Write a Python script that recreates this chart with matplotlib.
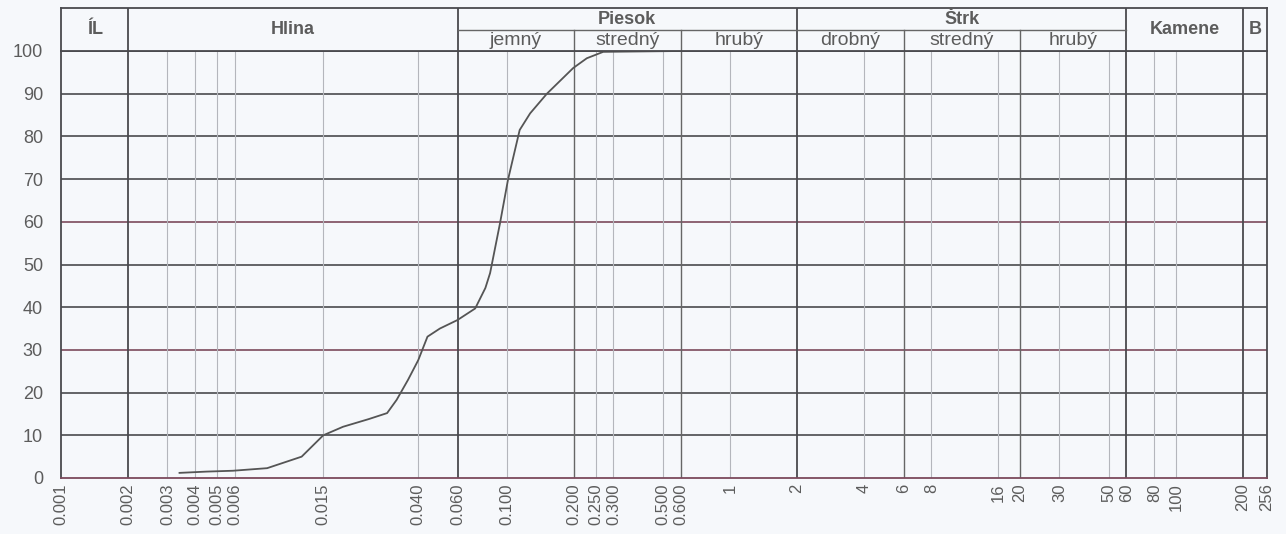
import numpy as np
import matplotlib
matplotlib.use('Agg')
import matplotlib.pyplot as plt

# grain size curve (diameter mm, % passing)
diam = [0.0034, 0.0045, 0.0059, 0.0084, 0.0120, 0.0150, 0.0184, 0.0240, 0.0290,
        0.0320, 0.0360, 0.0400, 0.0440, 0.0500, 0.0600, 0.0720, 0.0800, 0.0840,
        0.0930, 0.1010, 0.1140, 0.1270, 0.1510, 0.1980, 0.2280, 0.2700, 0.6000]
passing = [1.2, 1.5, 1.7, 2.3, 5.0, 10.0, 12.0, 13.8, 15.2,
           18.3, 23.0, 27.6, 33.1, 35.0, 37.0, 39.7, 44.5, 48.0,
           59.6, 69.8, 81.5, 85.4, 90.0, 96.0, 98.3, 99.8, 100.0]

tick_vals = [0.001, 0.002, 0.003, 0.004, 0.005, 0.006, 0.015, 0.040, 0.060,
             0.100, 0.200, 0.250, 0.300, 0.500, 0.600, 1, 2, 4, 6, 8, 16, 20,
             30, 50, 60, 80, 100, 200, 256]
tick_labels = ['0.001', '0.002', '0.003', '0.004', '0.005', '0.006', '0.015',
               '0.040', '0.060', '0.100', '0.200', '0.250', '0.300', '0.500',
               '0.600', '1', '2', '4', '6', '8', '16', '20', '30', '50', '60',
               '80', '100', '200', '256']
y_ticks = [0, 10, 20, 30, 40, 50, 60, 70, 80, 90, 100]

major_bounds = [0.002, 0.060, 2, 60, 200]
sub_bounds = [0.200, 0.600, 6, 20]

# header texts: (label, left, right, bold, row)  row: 'full', 'top', 'bottom'
header = [
    ('ÍL', 0.001, 0.002, True, 'full'),
    ('Hlina', 0.002, 0.060, True, 'full'),
    ('Piesok', 0.060, 2, True, 'top'),
    ('jemný', 0.060, 0.200, False, 'bottom'),
    ('stredný', 0.200, 0.600, False, 'bottom'),
    ('hrubý', 0.600, 2, False, 'bottom'),
    ('Štrk', 2, 60, True, 'top'),
    ('drobný', 2, 6, False, 'bottom'),
    ('stredný', 6, 20, False, 'bottom'),
    ('hrubý', 20, 60, False, 'bottom'),
    ('Kamene', 60, 200, True, 'full'),
    ('B', 200, 256, True, 'full'),
]

BG = '#f6f8fb'
DARK = '#4a4a4e'
RED = '#7c4a5c'
TXT = '#5c5c5c'

plt.rcParams['font.family'] = ['Liberation Sans', 'DejaVu Sans']

fig = plt.figure(figsize=(12.86, 5.34), dpi=100, facecolor=BG)
x0, w = 61 / 1286, 1206 / 1286
ax = fig.add_axes([x0, 56 / 534, w, 427 / 534])
hd = fig.add_axes([x0, 483 / 534, w, 43 / 534])

for a in (ax, hd):
    a.set_facecolor(BG)
    a.set_xscale('log')
    a.set_xlim(0.001, 256)
    for s in a.spines.values():
        s.set_color(DARK)
        s.set_linewidth(1.3)

ax.set_ylim(0, 100)
ax.spines['bottom'].set_color(RED)

# horizontal grid
for v in y_ticks[1:-1]:
    col = RED if v in (30, 60) else DARK
    ax.axhline(v, color=col, lw=1.2, zorder=1)

# vertical grid
for v in tick_vals[1:-1]:
    if v in major_bounds:
        ax.axvline(v, color=DARK, lw=1.3, zorder=1)
    elif v in sub_bounds:
        ax.axvline(v, color='#666666', lw=1.0, zorder=1)
    else:
        ax.axvline(v, color='#b4b6bc', lw=0.8, zorder=1)

ax.plot(diam, passing, color='#555555', lw=1.3, zorder=3)

ax.set_yticks(y_ticks)
ax.set_yticklabels([str(v) for v in y_ticks])
ax.set_xticks(tick_vals)
ax.set_xticklabels(tick_labels, rotation=90)
ax.minorticks_off()
ax.tick_params(axis='both', length=0, colors=TXT)
ax.tick_params(axis='x', pad=4, labelsize=12)
ax.tick_params(axis='y', pad=13, labelsize=13)

# header
hd.set_ylim(0, 1)
hd.set_xticks([])
hd.set_yticks([])
hd.minorticks_off()
mid = 21 / 43
for v in major_bounds:
    hd.axvline(v, color=DARK, lw=1.3)
for v in sub_bounds:
    hd.axvline(v, ymin=0, ymax=mid, color='#666666', lw=1.0)
hd.plot([0.060, 60], [mid, mid], color='#666666', lw=1.0)

for label, lo, hi, bold, row in header:
    xc = np.sqrt(lo * hi)
    yc = {'full': 0.5, 'top': 0.74, 'bottom': 0.24}[row]
    hd.text(xc, yc, label, ha='center', va='center', color=TXT,
            fontsize=13 if bold else 14,
            fontweight='bold' if bold else 'normal')

fig.savefig('out.png', dpi=100, facecolor=BG)
